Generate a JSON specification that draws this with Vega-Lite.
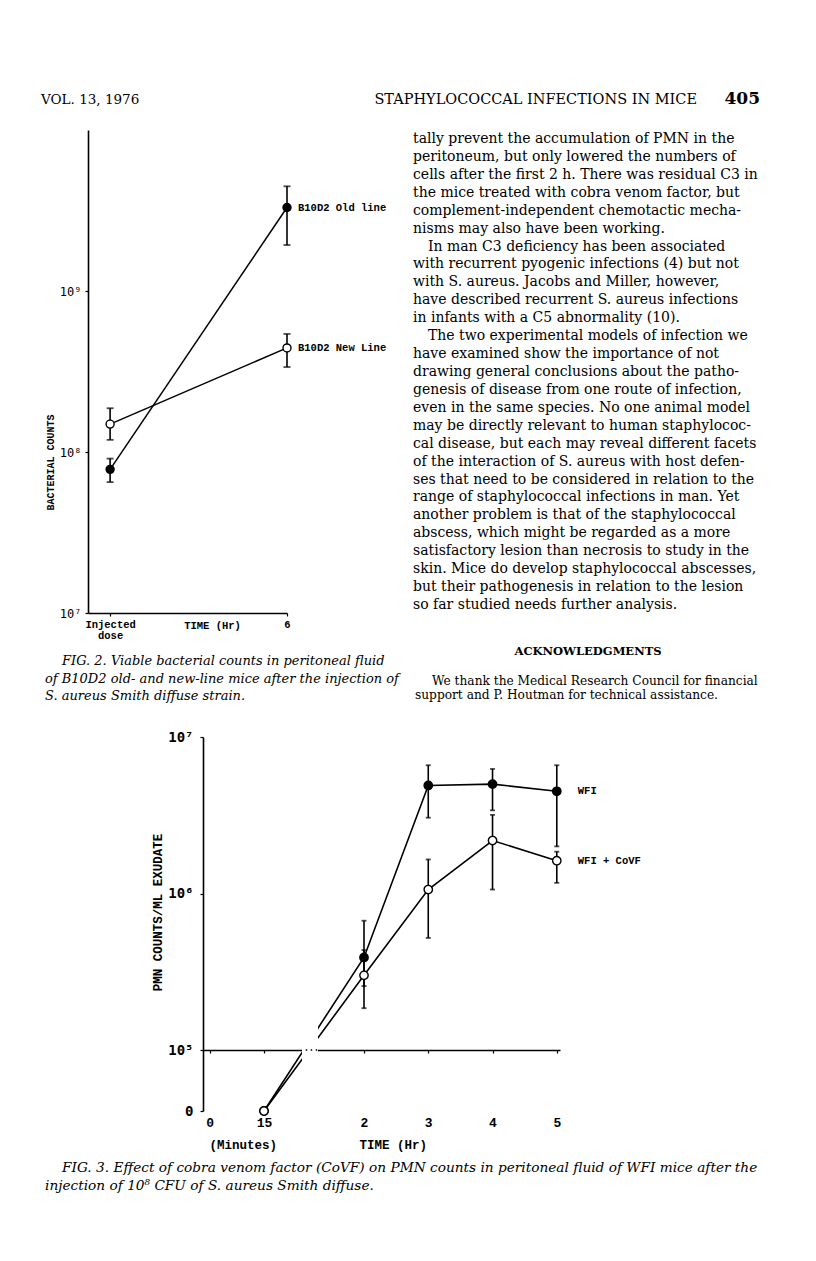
{
"$schema": "https://vega.github.io/schema/vega-lite/v6.json",
"width": 816, "height": 1261,
"autosize": {"type": "fit", "contains": "padding"},
"padding": 0,
"background": "white",
"config": {"view": {"stroke": null}, "axis": {"grid": false, "domainColor": "black", "tickColor": "black", "labelColor": "black", "titleColor": "black"}},
"datasets": {
 "fig2": [
  {"series": "B10D2 Old line", "hours": 0, "count": 78000000, "low": 65000000, "high": 91000000},
  {"series": "B10D2 Old line", "hours": 6, "count": 3300000000, "low": 1930000000, "high": 4470000000},
  {"series": "B10D2 New Line", "hours": 0, "count": 149000000, "low": 119000000, "high": 187000000},
  {"series": "B10D2 New Line", "hours": 6, "count": 443000000, "low": 337000000, "high": 541000000}
 ],
 "fig3": [
  {"series": "WFI", "hours": 0.25, "count": 0, "low": null, "high": null},
  {"series": "WFI", "hours": 2, "count": 390000, "low": 256000, "high": 670000},
  {"series": "WFI", "hours": 3, "count": 4900000, "low": 3050000, "high": 6600000},
  {"series": "WFI", "hours": 4, "count": 5000000, "low": 3400000, "high": 6250000},
  {"series": "WFI", "hours": 5, "count": 4500000, "low": 2000000, "high": 6600000},
  {"series": "WFI + CoVF", "hours": 0.25, "count": 0, "low": null, "high": null},
  {"series": "WFI + CoVF", "hours": 2, "count": 300000, "low": 185000, "high": 435000},
  {"series": "WFI + CoVF", "hours": 3, "count": 1060000, "low": 520000, "high": 1650000},
  {"series": "WFI + CoVF", "hours": 4, "count": 2180000, "low": 1060000, "high": 3180000},
  {"series": "WFI + CoVF", "hours": 5, "count": 1620000, "low": 1170000, "high": 1850000}
 ],
 "body": [
  {"line": 1, "indent": 0, "text": "tally prevent the accumulation of PMN in the"},
  {"line": 2, "indent": 0, "text": "peritoneum, but only lowered the numbers of"},
  {"line": 3, "indent": 0, "text": "cells after the first 2 h. There was residual C3 in"},
  {"line": 4, "indent": 0, "text": "the mice treated with cobra venom factor, but"},
  {"line": 5, "indent": 0, "text": "complement-independent chemotactic mecha-"},
  {"line": 6, "indent": 0, "text": "nisms may also have been working."},
  {"line": 7, "indent": 1, "text": "In man C3 deficiency has been associated"},
  {"line": 8, "indent": 0, "text": "with recurrent pyogenic infections (4) but not"},
  {"line": 9, "indent": 0, "text": "with S. aureus. Jacobs and Miller, however,"},
  {"line": 10, "indent": 0, "text": "have described recurrent S. aureus infections"},
  {"line": 11, "indent": 0, "text": "in infants with a C5 abnormality (10)."},
  {"line": 12, "indent": 1, "text": "The two experimental models of infection we"},
  {"line": 13, "indent": 0, "text": "have examined show the importance of not"},
  {"line": 14, "indent": 0, "text": "drawing general conclusions about the patho-"},
  {"line": 15, "indent": 0, "text": "genesis of disease from one route of infection,"},
  {"line": 16, "indent": 0, "text": "even in the same species. No one animal model"},
  {"line": 17, "indent": 0, "text": "may be directly relevant to human staphylococ-"},
  {"line": 18, "indent": 0, "text": "cal disease, but each may reveal different facets"},
  {"line": 19, "indent": 0, "text": "of the interaction of S. aureus with host defen-"},
  {"line": 20, "indent": 0, "text": "ses that need to be considered in relation to the"},
  {"line": 21, "indent": 0, "text": "range of staphylococcal infections in man. Yet"},
  {"line": 22, "indent": 0, "text": "another problem is that of the staphylococcal"},
  {"line": 23, "indent": 0, "text": "abscess, which might be regarded as a more"},
  {"line": 24, "indent": 0, "text": "satisfactory lesion than necrosis to study in the"},
  {"line": 25, "indent": 0, "text": "skin. Mice do develop staphylococcal abscesses,"},
  {"line": 26, "indent": 0, "text": "but their pathogenesis in relation to the lesion"},
  {"line": 27, "indent": 0, "text": "so far studied needs further analysis."}
 ],
 "ack": [
  {"line": 1, "indent": 1, "text": "We thank the Medical Research Council for financial"},
  {"line": 2, "indent": 0, "text": "support and P. Houtman for technical assistance."}
 ],
 "cap2": [
  {"line": 1, "indent": 1, "text": "FIG. 2. Viable bacterial counts in peritoneal fluid"},
  {"line": 2, "indent": 0, "text": "of B10D2 old- and new-line mice after the injection of"},
  {"line": 3, "indent": 0, "text": "S. aureus Smith diffuse strain."}
 ],
 "cap3": [
  {"line": 1, "indent": 1, "text": "FIG. 3. Effect of cobra venom factor (CoVF) on PMN counts in peritoneal fluid of WFI mice after the"},
  {"line": 2, "indent": 0, "text": "injection of 10⁸ CFU of S. aureus Smith diffuse."}
 ]
},
"resolve": {"scale": {"x": "independent", "y": "independent", "fill": "independent"}, "axis": {"x": "independent", "y": "independent"}},
"layer": [
 {"data": {"values": [{"text": "VOL. 13, 1976"}]},
  "mark": {"type": "text", "align": "left", "baseline": "alphabetic", "font": "DejaVu Serif", "fontSize": 13.5, "color": "black"},
  "encoding": {
   "x": {"datum": 0, "type": "quantitative", "scale": {"domain": [0, 1], "range": [41, 42], "nice": false}, "axis": null},
   "y": {"datum": 0, "type": "quantitative", "scale": {"domain": [0, 1], "range": [104, 105], "nice": false}, "axis": null},
   "text": {"field": "text"}}},
 {"data": {"values": [{"text": "STAPHYLOCOCCAL INFECTIONS IN MICE"}]},
  "mark": {"type": "text", "align": "right", "baseline": "alphabetic", "font": "DejaVu Serif", "fontSize": 14.5, "color": "black"},
  "encoding": {
   "x": {"datum": 0, "type": "quantitative", "scale": {"domain": [0, 1], "range": [697, 698], "nice": false}, "axis": null},
   "y": {"datum": 0, "type": "quantitative", "scale": {"domain": [0, 1], "range": [104, 105], "nice": false}, "axis": null},
   "text": {"field": "text"}}},
 {"data": {"values": [{"text": "405"}]},
  "mark": {"type": "text", "align": "right", "baseline": "alphabetic", "font": "DejaVu Serif", "fontWeight": "bold", "fontSize": 17, "color": "black"},
  "encoding": {
   "x": {"datum": 0, "type": "quantitative", "scale": {"domain": [0, 1], "range": [760, 761], "nice": false}, "axis": null},
   "y": {"datum": 0, "type": "quantitative", "scale": {"domain": [0, 1], "range": [104, 105], "nice": false}, "axis": null},
   "text": {"field": "text"}}},
 {"data": {"name": "body"},
  "mark": {"type": "text", "align": "left", "baseline": "alphabetic", "font": "DejaVu Serif", "fontSize": 14, "color": "black"},
  "encoding": {
   "x": {"field": "indent", "type": "quantitative", "scale": {"domain": [0, 1], "range": [413, 428], "nice": false}, "axis": null},
   "y": {"field": "line", "type": "quantitative", "scale": {"domain": [1, 27], "range": [143, 609], "nice": false}, "axis": null},
   "text": {"field": "text"}}},
 {"data": {"values": [{"text": "ACKNOWLEDGMENTS"}]},
  "mark": {"type": "text", "align": "center", "baseline": "alphabetic", "font": "DejaVu Serif", "fontWeight": "bold", "fontSize": 11.5, "color": "black"},
  "encoding": {
   "x": {"datum": 0, "type": "quantitative", "scale": {"domain": [0, 1], "range": [588, 589], "nice": false}, "axis": null},
   "y": {"datum": 0, "type": "quantitative", "scale": {"domain": [0, 1], "range": [655, 656], "nice": false}, "axis": null},
   "text": {"field": "text"}}},
 {"data": {"name": "ack"},
  "mark": {"type": "text", "align": "left", "baseline": "alphabetic", "font": "DejaVu Serif", "fontSize": 12.2, "color": "black"},
  "encoding": {
   "x": {"field": "indent", "type": "quantitative", "scale": {"domain": [0, 1], "range": [415, 432], "nice": false}, "axis": null},
   "y": {"field": "line", "type": "quantitative", "scale": {"domain": [1, 2], "range": [685, 699], "nice": false}, "axis": null},
   "text": {"field": "text"}}},
 {"data": {"name": "cap2"},
  "mark": {"type": "text", "align": "left", "baseline": "alphabetic", "font": "DejaVu Serif", "fontStyle": "italic", "fontSize": 13, "color": "black"},
  "encoding": {
   "x": {"field": "indent", "type": "quantitative", "scale": {"domain": [0, 1], "range": [45, 62], "nice": false}, "axis": null},
   "y": {"field": "line", "type": "quantitative", "scale": {"domain": [1, 3], "range": [665, 700], "nice": false}, "axis": null},
   "text": {"field": "text"}}},
 {"data": {"name": "cap3"},
  "mark": {"type": "text", "align": "left", "baseline": "alphabetic", "font": "DejaVu Serif", "fontStyle": "italic", "fontSize": 13.7, "color": "black"},
  "encoding": {
   "x": {"field": "indent", "type": "quantitative", "scale": {"domain": [0, 1], "range": [45, 62], "nice": false}, "axis": null},
   "y": {"field": "line", "type": "quantitative", "scale": {"domain": [1, 2], "range": [1172, 1190], "nice": false}, "axis": null},
   "text": {"field": "text"}}},
 {"data": {"name": "fig2"},
  "mark": {"type": "line", "color": "black", "strokeWidth": 1.5},
  "encoding": {
   "x": {"field": "hours", "type": "quantitative", "scale": {"domain": [-0.75, 6], "range": [88, 287], "nice": false, "zero": false},
    "axis": {"orient": "bottom", "offset": -648, "values": [0, 6], "labelExpr": "datum.value == 0 ? ['Injected', 'dose'] : datum.label", "labelFont": "Liberation Mono", "labelFontWeight": "bold", "labelFontSize": 10.5, "labelPadding": 3, "labelLineHeight": 11, "labelAlign": "center", "labelBaseline": "top", "labelFlush": false, "labelOverlap": false, "tickSize": 3, "tickWidth": 1.2, "domainWidth": 1.6, "title": "TIME (Hr)", "titleFont": "Liberation Mono", "titleFontWeight": "bold", "titleFontSize": 10.5, "titleX": 212, "titleY": 12, "titleAlign": "center", "titleBaseline": "middle", "titleAngle": 0}},
   "y": {"field": "count", "type": "quantitative", "scale": {"type": "log", "domain": [10000000, 10000000000], "range": [613, 130], "nice": false},
    "axis": {"orient": "left", "offset": -88, "values": [10000000, 100000000, 1000000000], "labelExpr": "datum.value < 50000000 ? '10⁷' : datum.value < 500000000 ? '10⁸' : '10⁹'", "labelFont": "DejaVu Sans Mono", "labelFontSize": 12, "labelPadding": 4, "tickSize": 3, "tickWidth": 1.2, "domainWidth": 1.6, "title": "BACTERIAL COUNTS", "titleFont": "Liberation Mono", "titleFontWeight": "bold", "titleFontSize": 10, "titleAngle": -90, "titleX": -38, "titleY": 462, "titleAlign": "center", "titleBaseline": "middle"}},
   "detail": {"field": "series"}}},
 {"data": {"name": "fig2"},
  "mark": {"type": "rule", "color": "black", "strokeWidth": 1.6},
  "encoding": {
   "x": {"field": "hours", "type": "quantitative", "scale": {"domain": [-0.75, 6], "range": [88, 287], "nice": false, "zero": false}, "axis": null},
   "y": {"field": "low", "type": "quantitative", "scale": {"type": "log", "domain": [10000000, 10000000000], "range": [613, 130], "nice": false}, "axis": null},
   "y2": {"field": "high"}}},
 {"data": {"name": "fig2"},
  "mark": {"type": "tick", "orient": "horizontal", "color": "black", "size": 7, "thickness": 1.8},
  "encoding": {
   "x": {"field": "hours", "type": "quantitative", "scale": {"domain": [-0.75, 6], "range": [88, 287], "nice": false, "zero": false}, "axis": null},
   "y": {"field": "low", "type": "quantitative", "scale": {"type": "log", "domain": [10000000, 10000000000], "range": [613, 130], "nice": false}, "axis": null}}},
 {"data": {"name": "fig2"},
  "mark": {"type": "tick", "orient": "horizontal", "color": "black", "size": 7, "thickness": 1.8},
  "encoding": {
   "x": {"field": "hours", "type": "quantitative", "scale": {"domain": [-0.75, 6], "range": [88, 287], "nice": false, "zero": false}, "axis": null},
   "y": {"field": "high", "type": "quantitative", "scale": {"type": "log", "domain": [10000000, 10000000000], "range": [613, 130], "nice": false}, "axis": null}}},
 {"data": {"name": "fig2"},
  "mark": {"type": "circle", "size": 64, "stroke": "black", "strokeWidth": 1.4, "opacity": 1},
  "encoding": {
   "x": {"field": "hours", "type": "quantitative", "scale": {"domain": [-0.75, 6], "range": [88, 287], "nice": false, "zero": false}, "axis": null},
   "y": {"field": "count", "type": "quantitative", "scale": {"type": "log", "domain": [10000000, 10000000000], "range": [613, 130], "nice": false}, "axis": null},
   "fill": {"field": "series", "type": "nominal", "scale": {"domain": ["B10D2 Old line", "B10D2 New Line"], "range": ["black", "white"]}, "legend": null}}},
 {"data": {"name": "fig2"},
  "transform": [{"filter": "datum.hours == 6"}],
  "mark": {"type": "text", "align": "left", "baseline": "middle", "dx": 11, "font": "Liberation Mono", "fontWeight": "bold", "fontSize": 10.5, "color": "black"},
  "encoding": {
   "x": {"field": "hours", "type": "quantitative", "scale": {"domain": [-0.75, 6], "range": [88, 287], "nice": false, "zero": false}, "axis": null},
   "y": {"field": "count", "type": "quantitative", "scale": {"type": "log", "domain": [10000000, 10000000000], "range": [613, 130], "nice": false}, "axis": null},
   "text": {"field": "series"}}},
 {"data": {"name": "fig3"},
  "mark": {"type": "line", "color": "black", "strokeWidth": 1.6},
  "encoding": {
   "x": {"field": "hours", "type": "quantitative", "scale": {"domain": [-0.03, 0.25, 2, 5.05], "range": [203, 264, 364, 560], "nice": false, "zero": false},
    "axis": {"orient": "bottom", "offset": -211, "values": [0, 0.25, 2, 3, 4, 5], "labelExpr": "datum.value == 0.25 ? '15' : datum.label", "labelFont": "Liberation Mono", "labelFontWeight": "bold", "labelFontSize": 13, "labelPadding": 63, "labelAlign": "center", "labelBaseline": "top", "labelFlush": false, "labelOverlap": false, "tickSize": 3, "tickWidth": 1.2, "domainWidth": 1.6, "title": "(Minutes)\u00a0\u00a0\u00a0\u00a0\u00a0\u00a0\u00a0\u00a0\u00a0\u00a0\u00a0TIME (Hr)", "titleFont": "Liberation Mono", "titleFontWeight": "bold", "titleFontSize": 12.5, "titleX": 209, "titleY": 94, "titleAlign": "left", "titleBaseline": "middle", "titleAngle": 0}},
   "y": {"field": "count", "type": "quantitative", "scale": {"type": "symlog", "domain": [0, 100000, 10000000], "range": [1111, 1050, 737], "nice": false},
    "axis": {"orient": "left", "offset": -203, "values": [0, 100000, 1000000, 10000000], "labelExpr": "datum.value == 0 ? '0' : datum.value < 500000 ? '10⁵' : datum.value < 5000000 ? '10⁶' : '10⁷'", "labelFont": "DejaVu Sans Mono", "labelFontWeight": "bold", "labelFontSize": 14, "labelPadding": 7, "tickSize": 3, "tickWidth": 1.2, "domainWidth": 1.6, "title": "PMN COUNTS/ML EXUDATE", "titleFont": "Liberation Mono", "titleFontWeight": "bold", "titleFontSize": 12.5, "titleAngle": -90, "titleX": -46, "titleY": 912, "titleAlign": "center", "titleBaseline": "middle"}},
   "detail": {"field": "series"}}},
 {"data": {"values": [{}]},
  "mark": {"type": "rect", "fill": "white"},
  "encoding": {
   "x": {"datum": 0.915, "type": "quantitative", "scale": {"domain": [-0.03, 0.25, 2, 5.05], "range": [203, 264, 364, 560], "nice": false, "zero": false}, "axis": null},
   "x2": {"datum": 1.195},
   "y": {"datum": 155000, "type": "quantitative", "scale": {"type": "symlog", "domain": [0, 100000, 10000000], "range": [1111, 1050, 737], "nice": false}, "axis": null},
   "y2": {"datum": 7130}}},
 {"data": {"values": [{}]},
  "mark": {"type": "rule", "color": "black", "strokeWidth": 1.4, "strokeDash": [1.5, 3.5]},
  "encoding": {
   "x": {"datum": 0.98, "type": "quantitative", "scale": {"domain": [-0.03, 0.25, 2, 5.05], "range": [203, 264, 364, 560], "nice": false, "zero": false}, "axis": null},
   "x2": {"datum": 1.195},
   "y": {"datum": 100000, "type": "quantitative", "scale": {"type": "symlog", "domain": [0, 100000, 10000000], "range": [1111, 1050, 737], "nice": false}, "axis": null}}},
 {"data": {"name": "fig3"},
  "transform": [{"filter": "datum.low != null"}],
  "mark": {"type": "rule", "color": "black", "strokeWidth": 1.6},
  "encoding": {
   "x": {"field": "hours", "type": "quantitative", "scale": {"domain": [-0.03, 0.25, 2, 5.05], "range": [203, 264, 364, 560], "nice": false, "zero": false}, "axis": null},
   "y": {"field": "low", "type": "quantitative", "scale": {"type": "symlog", "domain": [0, 100000, 10000000], "range": [1111, 1050, 737], "nice": false}, "axis": null},
   "y2": {"field": "high"}}},
 {"data": {"name": "fig3"},
  "transform": [{"filter": "datum.low != null"}],
  "mark": {"type": "tick", "orient": "horizontal", "color": "black", "size": 5, "thickness": 1.8},
  "encoding": {
   "x": {"field": "hours", "type": "quantitative", "scale": {"domain": [-0.03, 0.25, 2, 5.05], "range": [203, 264, 364, 560], "nice": false, "zero": false}, "axis": null},
   "y": {"field": "low", "type": "quantitative", "scale": {"type": "symlog", "domain": [0, 100000, 10000000], "range": [1111, 1050, 737], "nice": false}, "axis": null}}},
 {"data": {"name": "fig3"},
  "transform": [{"filter": "datum.low != null"}],
  "mark": {"type": "tick", "orient": "horizontal", "color": "black", "size": 5, "thickness": 1.8},
  "encoding": {
   "x": {"field": "hours", "type": "quantitative", "scale": {"domain": [-0.03, 0.25, 2, 5.05], "range": [203, 264, 364, 560], "nice": false, "zero": false}, "axis": null},
   "y": {"field": "high", "type": "quantitative", "scale": {"type": "symlog", "domain": [0, 100000, 10000000], "range": [1111, 1050, 737], "nice": false}, "axis": null}}},
 {"data": {"name": "fig3"},
  "mark": {"type": "circle", "size": 70, "stroke": "black", "strokeWidth": 1.4, "opacity": 1},
  "encoding": {
   "x": {"field": "hours", "type": "quantitative", "scale": {"domain": [-0.03, 0.25, 2, 5.05], "range": [203, 264, 364, 560], "nice": false, "zero": false}, "axis": null},
   "y": {"field": "count", "type": "quantitative", "scale": {"type": "symlog", "domain": [0, 100000, 10000000], "range": [1111, 1050, 737], "nice": false}, "axis": null},
   "fill": {"field": "series", "type": "nominal", "scale": {"domain": ["WFI", "WFI + CoVF"], "range": ["black", "white"]}, "legend": null}}},
 {"data": {"name": "fig3"},
  "transform": [{"filter": "datum.hours == 5"}],
  "mark": {"type": "text", "align": "left", "baseline": "middle", "dx": 21, "font": "Liberation Mono", "fontWeight": "bold", "fontSize": 10.5, "color": "black"},
  "encoding": {
   "x": {"field": "hours", "type": "quantitative", "scale": {"domain": [-0.03, 0.25, 2, 5.05], "range": [203, 264, 364, 560], "nice": false, "zero": false}, "axis": null},
   "y": {"field": "count", "type": "quantitative", "scale": {"type": "symlog", "domain": [0, 100000, 10000000], "range": [1111, 1050, 737], "nice": false}, "axis": null},
   "text": {"field": "series"}}}
]
}
